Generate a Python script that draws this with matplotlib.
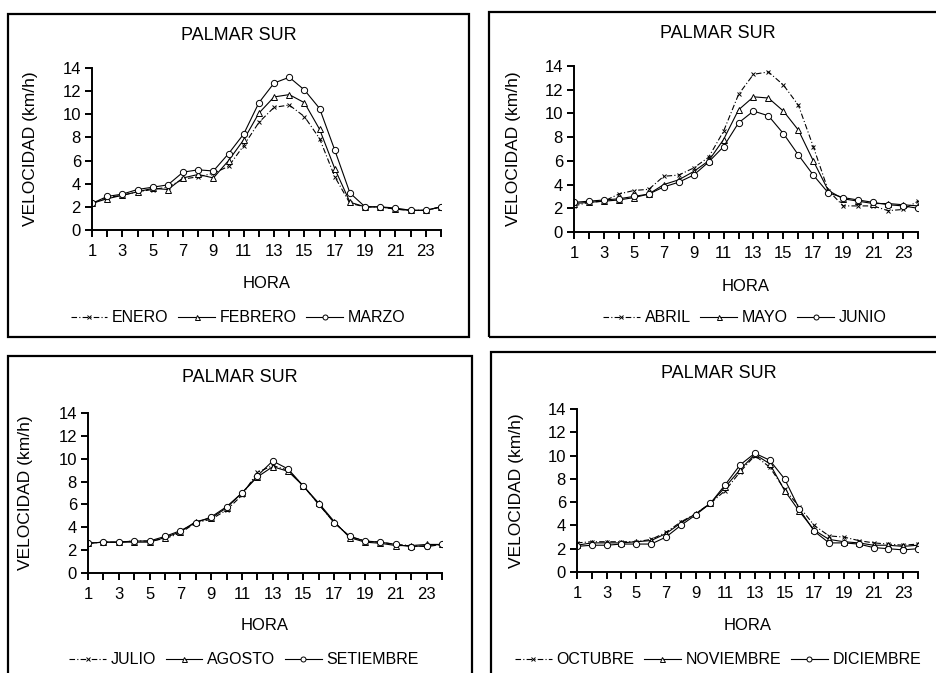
import numpy as np
import matplotlib.pyplot as plt
from matplotlib.patches import Rectangle

plt.rcParams['font.family'] = ['Liberation Sans', 'DejaVu Sans']

horas = np.arange(1, 25)

# velocidad media horaria del viento (km/h), Palmar Sur
enero = [2.3, 2.8, 3.0, 3.3, 3.5, 3.7, 4.4, 4.6, 4.9, 5.5, 7.3, 9.3,
         10.6, 10.8, 9.8, 7.9, 4.6, 2.3, 2.0, 2.0, 1.8, 1.7, 1.7, 2.0]
febrero = [2.3, 2.7, 3.0, 3.3, 3.6, 3.5, 4.5, 4.8, 4.5, 6.0, 7.8, 10.1,
           11.5, 11.7, 11.0, 8.7, 5.3, 2.4, 2.0, 2.0, 1.8, 1.7, 1.7, 2.0]
marzo = [2.3, 2.9, 3.1, 3.5, 3.7, 3.9, 5.0, 5.2, 5.1, 6.6, 8.3, 11.0,
         12.7, 13.2, 12.1, 10.5, 6.9, 3.2, 2.0, 2.0, 1.9, 1.7, 1.7, 2.0]

abril = [2.2, 2.5, 2.6, 3.2, 3.5, 3.6, 4.7, 4.8, 5.4, 6.3, 8.5, 11.6,
         13.3, 13.5, 12.4, 10.7, 7.2, 3.5, 2.2, 2.2, 2.2, 1.8, 1.9, 2.6]
mayo = [2.4, 2.5, 2.6, 2.7, 2.9, 3.2, 4.0, 4.4, 5.1, 6.0, 7.8, 10.3,
        11.4, 11.3, 10.2, 8.6, 6.0, 3.5, 2.8, 2.6, 2.4, 2.4, 2.3, 2.2]
junio = [2.5, 2.6, 2.7, 2.8, 3.0, 3.2, 3.8, 4.2, 4.8, 5.9, 7.2, 9.2,
         10.2, 9.8, 8.3, 6.5, 4.8, 3.3, 2.9, 2.7, 2.5, 2.3, 2.2, 2.0]

julio = [2.6, 2.7, 2.7, 2.8, 2.8, 3.0, 3.5, 4.4, 4.7, 5.5, 6.8, 8.8,
         9.4, 9.0, 7.6, 6.0, 4.4, 3.2, 2.8, 2.7, 2.5, 2.4, 2.3, 2.5]
agosto = [2.6, 2.7, 2.7, 2.7, 2.7, 3.1, 3.6, 4.5, 4.8, 5.7, 7.0, 8.4,
          9.3, 8.9, 7.6, 6.1, 4.5, 3.1, 2.7, 2.6, 2.4, 2.4, 2.5, 2.5]
setiembre = [2.6, 2.7, 2.7, 2.8, 2.8, 3.2, 3.7, 4.4, 4.9, 5.8, 7.0, 8.5,
             9.8, 9.1, 7.6, 6.0, 4.4, 3.2, 2.8, 2.7, 2.5, 2.3, 2.4, 2.5]

octubre = [2.5, 2.6, 2.6, 2.6, 2.6, 2.8, 3.4, 4.3, 5.0, 5.9, 7.0, 8.6,
           10.0, 9.0, 7.1, 5.6, 4.0, 3.1, 3.0, 2.7, 2.5, 2.4, 2.3, 2.4]
noviembre = [2.3, 2.5, 2.5, 2.5, 2.6, 2.7, 3.3, 4.2, 5.0, 5.9, 7.3, 8.8,
             10.1, 9.3, 7.0, 5.2, 3.6, 2.8, 2.6, 2.5, 2.3, 2.3, 2.2, 2.3]
diciembre = [2.2, 2.3, 2.3, 2.4, 2.4, 2.4, 3.0, 4.0, 4.9, 5.9, 7.5, 9.2,
             10.2, 9.6, 8.0, 5.4, 3.5, 2.5, 2.5, 2.4, 2.1, 2.0, 1.9, 2.0]

W, H = 936, 673
fig = plt.figure(figsize=(W / 100, H / 100), dpi=100)


def px_box(x0, y0, x1, y1):
    # pixel box (top-left origin) -> figure fraction [left, bottom, width, height]
    return [x0 / W, (H - y1) / H, (x1 - x0) / W, (y1 - y0) / H]


paneles = [
    dict(frame=(8, 14, 469, 337), axes=(92, 68, 441, 230), leg=(238, 318),
         series=[('ENERO', enero), ('FEBRERO', febrero), ('MARZO', marzo)]),
    dict(frame=(489, 12, 950, 337), axes=(574, 66, 918, 232), leg=(745, 318),
         series=[('ABRIL', abril), ('MAYO', mayo), ('JUNIO', junio)]),
    dict(frame=(8, 356, 472, 700), axes=(88, 413, 442, 573), leg=(244, 660),
         series=[('JULIO', julio), ('AGOSTO', agosto), ('SETIEMBRE', setiembre)]),
    dict(frame=(491, 352, 950, 700), axes=(577, 409, 918, 572), leg=(718, 660),
         series=[('OCTUBRE', octubre), ('NOVIEMBRE', noviembre), ('DICIEMBRE', diciembre)]),
]

estilos = [
    dict(ls=(0, (5, 2, 1, 2)), marker='x', ms=3.5, mew=0.7),
    dict(ls='-', marker='^', ms=4.5, mfc='white', mew=0.7),
    dict(ls='-', marker='o', ms=4.5, mfc='white', mew=0.7),
]

for p in paneles:
    fx0, fy0, fx1, fy1 = p['frame']
    fig.add_artist(Rectangle((fx0 / W, (H - fy1) / H), (fx1 - fx0) / W, (fy1 - fy0) / H,
                             transform=fig.transFigure, fill=False, lw=1.6,
                             edgecolor='black', clip_on=False))

    ax = fig.add_axes(px_box(*p['axes']))
    handles = []
    for (nombre, valores), st in zip(p['series'], estilos):
        h, = ax.plot(horas, valores, color='black', lw=0.8, label=nombre, **st)
        handles.append(h)

    ax.set_xlim(1, 24)
    ax.set_ylim(0, 14)
    ax.set_xticks(horas)
    ax.set_xticklabels([str(h) if h % 2 == 1 else '' for h in horas])
    ax.set_yticks(np.arange(0, 15, 2))
    ax.spines['top'].set_visible(False)
    ax.spines['right'].set_visible(False)
    for s in ('left', 'bottom'):
        ax.spines[s].set_linewidth(1.4)
    ax.tick_params(direction='out', length=5, width=1.4, labelsize=12, pad=3)
    ax.tick_params(axis='x', pad=5)
    ax.set_ylabel('VELOCIDAD (km/h)', fontsize=12.5)
    ax.yaxis.set_label_coords(-0.155, 0.5)

    # titulo centrado en el marco
    cx = (fx0 + min(fx1, 947)) / 2
    fig.text(cx / W, (H - (fy0 + 22)) / H, 'PALMAR SUR', ha='center', va='center', fontsize=13)
    ax.text(0.5, -0.33, 'HORA', transform=ax.transAxes, ha='center', va='center', fontsize=12)

    lx, ly = p['leg']
    fig.legend(handles=handles, loc='center', bbox_to_anchor=(lx / W, (H - ly) / H),
               ncol=3, frameon=False, fontsize=11.5, handlelength=2.3,
               handletextpad=0.3, columnspacing=0.6, borderaxespad=0, markerscale=0.8)

fig.savefig('out.png', dpi=100)
